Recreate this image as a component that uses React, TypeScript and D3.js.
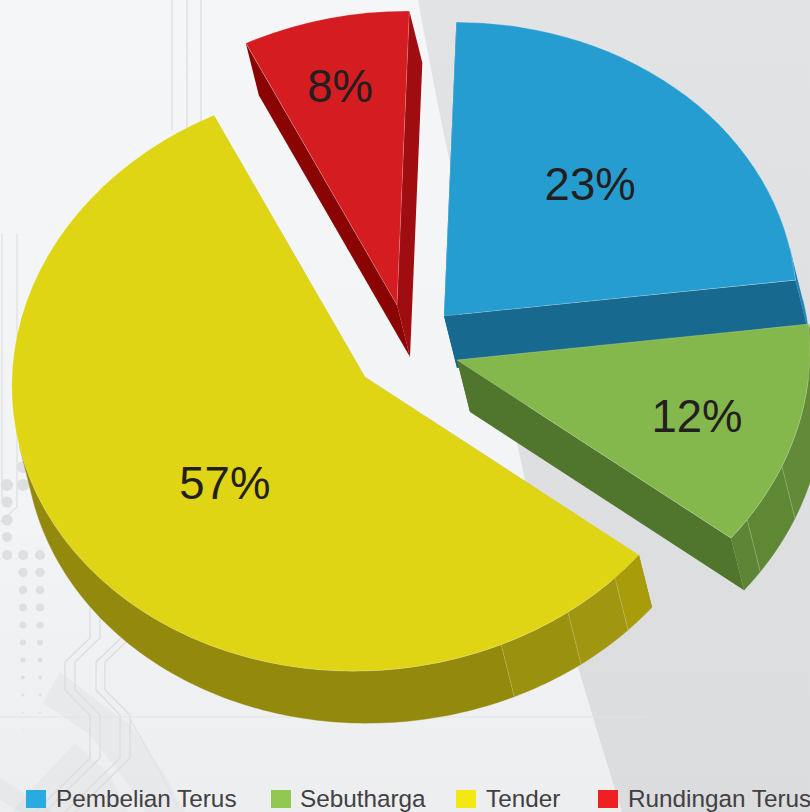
import React from "react";
import * as d3 from "d3";

// ---- data ----
const categories = ["Pembelian Terus", "Sebutharga", "Tender", "Rundingan Terus"];
const shares = [23, 12.3, 57.1, 7.6];
const percentLabels = ["23%", "12%", "57%", "8%"];

// ---- palette ----
const legendColors = ["#29abe2", "#92c851", "#f3e714", "#ee2024"];
const faceColors = ["#269dd0", "#85b84c", "#dfd514", "#d41c21"];
const edgeColors = ["#17698f", "#50752c", "#93890c", "#8a0404"];
const closingEdgeColors = ["#17698f", "#50752c", "#93890c", "#a00d10"];

// ---- layout ----
const W = 810;
const H = 812;
const RX = 353;
const RY = 294;
const SHEAR = 0.026;
const DEPTH = { x: 13, y: 52 };
const START_DEG = 2;
const apexes = [
  { x: 444, y: 316 },
  { x: 457, y: 360 },
  { x: 365, y: 377 },
  { x: 397, y: 305 },
];
// label centre relative to the slice apex, in fractions of the radii
const labelOffsets = [
  { u: 0.414, v: -0.446 },
  { u: 0.68, v: 0.194 },
  { u: -0.397, v: 0.364 },
  { u: -0.161, v: -0.741 },
];
// outer-wall facets (angle where each facet begins, clockwise from 12 o'clock) and shades
const wallFacets = [
  { breaks: [], shades: ["#2485b5"] },
  { breaks: [113, 124.7], shades: ["#628a38", "#5f8835", "#5e8535"] },
  { breaks: [134.9, 144.9, 157.3], shades: ["#a89c0a", "#a09610", "#9a910e", "#93890c"] },
  { breaks: [], shades: ["#a00d10"] },
];
const drawOrder = [3, 0, 1, 2];

const legendSwatchX = [26, 271, 456, 598];
const legendTextX = [56, 300, 486, 628];

// ---- background decoration ----
const panelEdge: [number, number][] = [[418, 0], [443, 130], [517, 443], [525, 480], [578, 667], [622, 812]];
const dotSizes = [5, 4.7, 4.3, 4, 3.5, 3, 2.5, 2, 1.5, 1, 0.7];
const dotColumns = [23, 40];
const extraDots: [number, number, number][] = [
  [7, 485, 6], [23, 485, 6], [23, 467, 6], [7, 502, 5.5], [7, 520, 5.5], [7, 537, 5], [7, 555, 5],
];
const circuits: [number, number][][] = [
  [[130, 570], [90, 600], [90, 638], [65, 662], [65, 690], [90, 715], [90, 758], [35, 812]],
  [[140, 570], [100, 600], [100, 638], [75, 662], [75, 690], [100, 715], [100, 758], [45, 812]],
  [[150, 610], [96, 662], [96, 690], [120, 715], [120, 758], [65, 812]],
  [[160, 610], [105, 662], [105, 690], [130, 715], [130, 758], [75, 812]],
  [[172, 0], [172, 130]],
  [[187, 0], [187, 130]],
  [[201, 0], [201, 130]],
  [[2, 234], [2, 500]],
  [[17, 234], [17, 507], [0, 522]],
];
const bands: [number, number][][] = [
  [[60, 672], [43, 703], [90, 735], [125, 780], [145, 812], [185, 812], [165, 775], [130, 725]],
  [[75, 743], [37, 783], [12, 812], [128, 812], [110, 775]],
  [[0, 777], [0, 800], [20, 812], [52, 812]],
];

const rad = (d: number) => (d * Math.PI) / 180;
const arcs = d3
  .pie<number>()
  .sort(null)
  .startAngle(rad(START_DEG))
  .endAngle(rad(START_DEG + 360))(shares);

const unitArc = d3.arc<any>().innerRadius(0).outerRadius(1);
const toPath = d3.line();
const smoothPath = d3.line().curve(d3.curveMonotoneY);

// the rim wall faces the viewer only between these two angles
const visibleStart = Math.atan2((DEPTH.y + SHEAR * DEPTH.x) / RY, DEPTH.x / RX);
const visibleEnd = visibleStart + Math.PI;

function rimPoint(i: number, a: number, depth = 0): [number, number] {
  return [
    apexes[i].x + RX * Math.sin(a) + depth * DEPTH.x,
    apexes[i].y - RY * Math.cos(a) - SHEAR * RX * Math.sin(a) + depth * DEPTH.y,
  ];
}

function wallPath(i: number, a0: number, a1: number) {
  const n = Math.max(2, Math.ceil(Math.abs(a1 - a0) / rad(1)));
  const ts = d3.range(n + 1).map((k) => a0 + ((a1 - a0) * k) / n);
  return toPath([...ts.map((t) => rimPoint(i, t)), ...ts.slice().reverse().map((t) => rimPoint(i, t, 1))])!;
}

function edgeQuad(i: number, a: number) {
  const c = apexes[i];
  return toPath([
    [c.x, c.y],
    rimPoint(i, a),
    rimPoint(i, a, 1),
    [c.x + DEPTH.x, c.y + DEPTH.y],
  ])!;
}

function Slice({ i }: { i: number }) {
  const arc = arcs[i];
  const facets = wallFacets[i];
  const bounds = [arc.startAngle, ...facets.breaks.map(rad), arc.endAngle];
  const c = apexes[i];
  return (
    <g>
      <path d={edgeQuad(i, arc.endAngle)} fill={closingEdgeColors[i]} />
      <path d={edgeQuad(i, arc.startAngle)} fill={edgeColors[i]} />
      {facets.shades.map((s, k) => {
        const a0 = Math.max(bounds[k], visibleStart);
        const a1 = Math.min(bounds[k + 1], visibleEnd);
        if (a1 <= a0) return null;
        return <path key={k} d={wallPath(i, a0, a1)} fill={s} stroke={s} strokeWidth={0.4} />;
      })}
      {facets.breaks.map((b) => (
        <line
          key={b}
          x1={rimPoint(i, rad(b))[0]}
          y1={rimPoint(i, rad(b))[1]}
          x2={rimPoint(i, rad(b), 1)[0]}
          y2={rimPoint(i, rad(b), 1)[1]}
          stroke="#ffffff"
          strokeOpacity={0.25}
          strokeWidth={0.8}
        />
      ))}
      <path
        d={unitArc(arc)!}
        transform={`matrix(${RX},${-SHEAR * RX},0,${RY},${c.x},${c.y})`}
        fill={faceColors[i]}
        stroke="#ffffff"
        strokeOpacity={0.3}
        strokeWidth={0.7}
        vectorEffect="non-scaling-stroke"
      />
    </g>
  );
}

export default function App() {
  return (
    <svg
      width={W}
      height={H}
      viewBox={`0 0 ${W} ${H}`}
      style={{ position: "absolute", left: 0, top: 0, display: "block" }}
    >
      <defs>
        <linearGradient id="bgLeft" x1="0" y1="0" x2="0" y2="1">
          <stop offset="0" stopColor="#f5f6f7" />
          <stop offset="0.6" stopColor="#f3f4f5" />
          <stop offset="1" stopColor="#edeef0" />
        </linearGradient>
        <linearGradient id="bgRight" x1="0" y1="0" x2="0" y2="1">
          <stop offset="0" stopColor="#e2e3e5" />
          <stop offset="1" stopColor="#dbdcde" />
        </linearGradient>
      </defs>
      <rect width={W} height={H} fill="url(#bgLeft)" />
      <path d={`${smoothPath(panelEdge)}L${W},${H}L${W},0Z`} fill="url(#bgRight)" />
      {bands.map((b, i) => (
        <path key={i} d={toPath(b)! + "Z"} fill="#d8d9db" opacity={0.3} />
      ))}
      <path d="M130,720Q155,760 178,808" fill="none" stroke="#e2e3e5" strokeWidth={1.5} />
      {circuits.map((p, i) => (
        <path key={i} d={toPath(p)!} fill="none" stroke={i > 6 ? "#e0e1e3" : "#dcddde"} strokeWidth={1.3} />
      ))}
      <line x1={0} x2={645} y1={717} y2={717} stroke="#e3e4e6" strokeWidth={1.2} />
      {dotColumns.map((x) =>
        dotSizes.map((r, k) => (
          <circle key={`${x}-${k}`} cx={x} cy={555 + k * 17.5} r={r} fill="#dddfe0" />
        ))
      )}
      {extraDots.map(([x, y, r], k) => (
        <circle key={k} cx={x} cy={y} r={r} fill="#dddfe0" />
      ))}

      {drawOrder.map((i) => (
        <Slice key={i} i={i} />
      ))}

      {percentLabels.map((t, i) => (
        <text
          key={t}
          x={apexes[i].x + RX * labelOffsets[i].u}
          y={apexes[i].y + RY * labelOffsets[i].v + 15}
          textAnchor="middle"
          fontFamily="'Liberation Sans', Arial, sans-serif"
          fontSize={45.5}
          fill="#231f20"
        >
          {t}
        </text>
      ))}

      {categories.map((c, i) => (
        <g key={c}>
          <rect x={legendSwatchX[i]} y={790} width={20} height={18} fill={legendColors[i]} />
          <text
            x={legendTextX[i]}
            y={807}
            fontFamily="'Liberation Sans', Arial, sans-serif"
            fontSize={24.3}
            fill="#414042"
          >
            {c}
          </text>
        </g>
      ))}
    </svg>
  );
}
